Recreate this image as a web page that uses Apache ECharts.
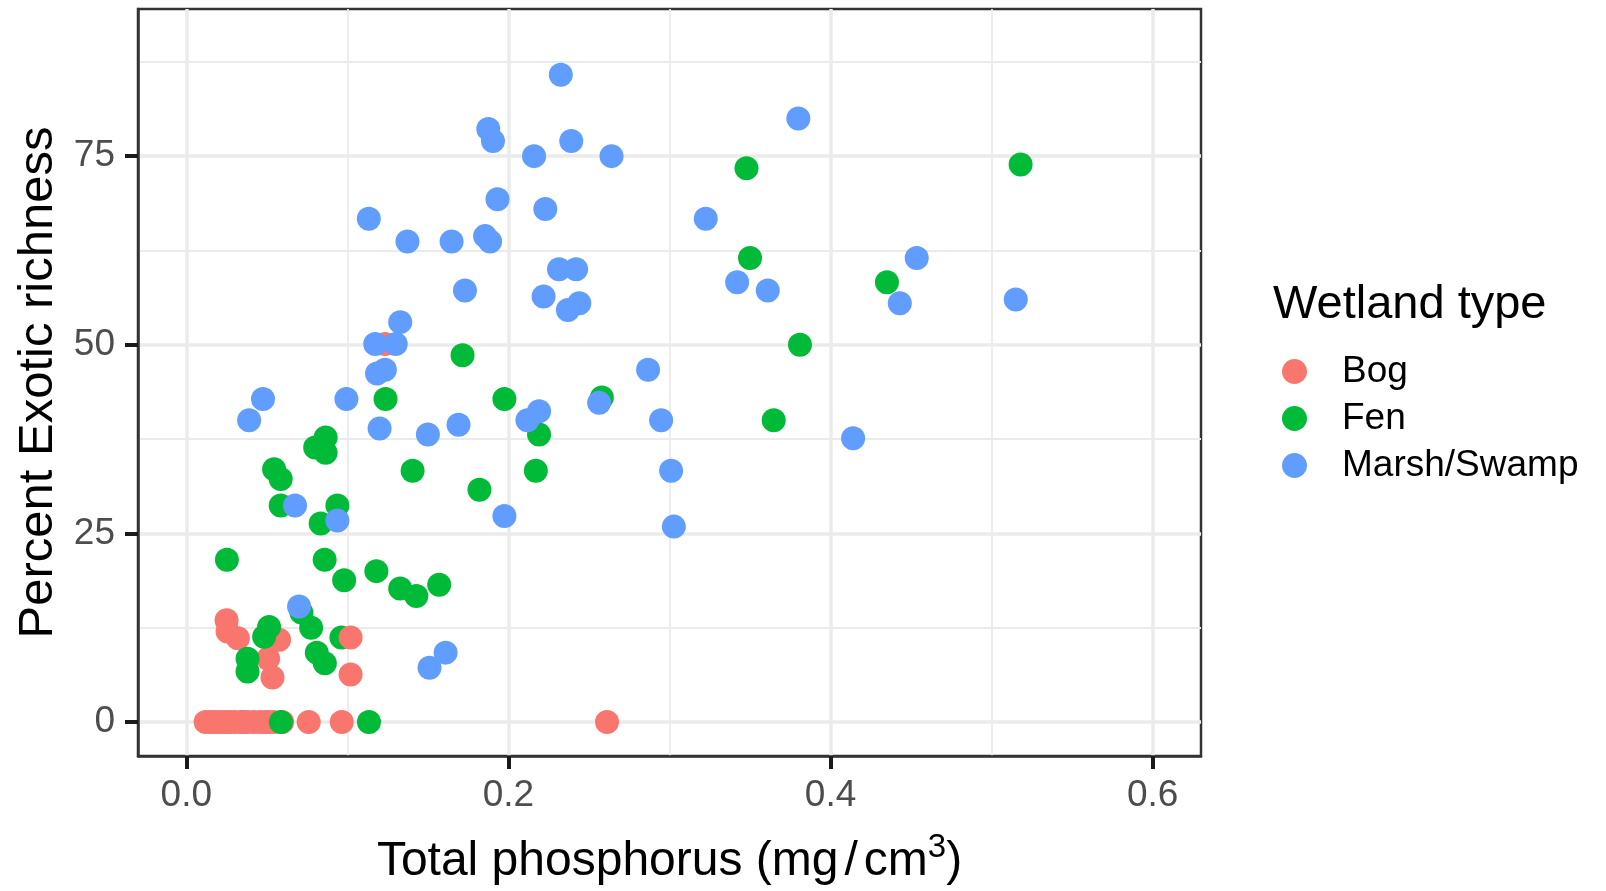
<!DOCTYPE html>
<html>
<head>
<meta charset="utf-8">
<script src="https://cdn.jsdelivr.net/npm/echarts@6/dist/echarts.min.js"></script>
<style>
html,body{margin:0;padding:0;background:#fff;}
#chart{width:1606px;height:891px;}
</style>
</head>
<body>
<div id="chart"></div>
<script>
// ---- data ----
const categories = ['Bog', 'Fen', 'Marsh/Swamp'];
const colors = ['#F8766D', '#00BA38', '#619CFF'];

const xMajor = [0, 0.2, 0.4, 0.6];
const xMinor = [0.1, 0.3, 0.5];
const yMajor = [0, 25, 50, 75];
const yMinor = [12.5, 37.5, 62.5, 87.5];

// points partly hidden beneath others (drawn first)
const marshUnder = [[0.035, 0], [0.050, 0]];
const fenUnder = [[0.0963, 11.2]];

const bogPoints = [
  [0.012, 0], [0.015, 0], [0.018, 0], [0.021, 0], [0.024, 0], [0.027, 0],
  [0.030, 0], [0.034, 0], [0.038, 0], [0.042, 0], [0.046, 0], [0.050, 0],
  [0.054, 0], [0.0595, 0], [0.076, 0], [0.0965, 0], [0.2612, 0],
  [0.025, 13.5], [0.0256, 12.0], [0.032, 11.1], [0.0576, 10.9],
  [0.0508, 8.4], [0.0535, 5.9], [0.102, 11.2], [0.102, 6.3], [0.1233, 50.1]
];

const fenPoints = [
  [0.3478, 73.4], [0.518, 73.9], [0.350, 61.5], [0.435, 58.3], [0.381, 50.0],
  [0.1715, 48.6], [0.1237, 42.8], [0.1975, 42.8], [0.258, 43.0], [0.3647, 40.0],
  [0.219, 38.1], [0.0865, 37.7], [0.080, 36.4], [0.0865, 35.7], [0.1405, 33.3],
  [0.217, 33.3], [0.0545, 33.5], [0.0586, 32.2], [0.182, 30.8], [0.0586, 28.7],
  [0.0938, 28.7], [0.0834, 26.3], [0.0252, 21.5], [0.0859, 21.5], [0.118, 20.0],
  [0.098, 18.8], [0.157, 18.2], [0.1328, 17.7], [0.1428, 16.7], [0.0715, 14.5],
  [0.0775, 12.5], [0.0514, 12.6], [0.0483, 11.3], [0.081, 9.2], [0.0860, 7.8],
  [0.038, 8.4], [0.038, 6.7], [0.0587, 0], [0.1134, 0]
];

const marshPoints = [
  [0.2325, 85.8], [0.380, 80.0], [0.1875, 78.6], [0.1904, 77.0], [0.239, 77.0],
  [0.2159, 75.0], [0.264, 75.0], [0.1932, 69.3], [0.2229, 68.0], [0.1133, 66.7],
  [0.3225, 66.7], [0.1373, 63.7], [0.1647, 63.7], [0.1855, 64.4], [0.1886, 63.7],
  [0.2314, 60.0], [0.242, 60.0], [0.4535, 61.5], [0.342, 58.3], [0.361, 57.2],
  [0.173, 57.2], [0.2218, 56.4], [0.244, 55.5], [0.2369, 54.6], [0.443, 55.5],
  [0.515, 56.0], [0.1328, 53.0], [0.1173, 50.1], [0.130, 50.1], [0.1233, 46.7],
  [0.1184, 46.2], [0.2867, 46.7], [0.0476, 42.8], [0.0994, 42.8], [0.039, 40.0],
  [0.120, 38.9], [0.150, 38.1], [0.169, 39.4], [0.2118, 40.0], [0.219, 41.2],
  [0.2563, 42.3], [0.2948, 40.0], [0.414, 37.6], [0.301, 33.3], [0.0675, 28.7],
  [0.0938, 26.7], [0.1975, 27.3], [0.3027, 25.9], [0.070, 15.3], [0.161, 9.2],
  [0.151, 7.2]
];

// ---- chart ----
const FONT = 'Liberation Sans, Arial, sans-serif';
const chart = echarts.init(document.getElementById('chart'), null, {renderer: 'canvas'});

const gridColor = '#EBEBEB';
const gridLines = []
  .concat(xMinor.map(v => ({xAxis: v, lineStyle: {color: gridColor, width: 1.8, type: 'solid'}})))
  .concat(yMinor.map(v => ({yAxis: v, lineStyle: {color: gridColor, width: 1.8, type: 'solid'}})))
  .concat(xMajor.map(v => ({xAxis: v, lineStyle: {color: gridColor, width: 3.5, type: 'solid'}})))
  .concat(yMajor.map(v => ({yAxis: v, lineStyle: {color: gridColor, width: 3.5, type: 'solid'}})));

function pts(name, data, color) {
  return {
    type: 'scatter', name: name, data: data, symbol: 'circle', symbolSize: 24,
    itemStyle: {color: color, opacity: 1}, emphasis: {disabled: true}, silent: true
  };
}

chart.setOption({
  animation: false,
  backgroundColor: '#fff',
  textStyle: {fontFamily: FONT},
  grid: {
    left: 138, top: 9, right: 405, bottom: 134,
    show: true, borderColor: '#333333', borderWidth: 2.5, backgroundColor: '#fff',
    containLabel: false
  },
  xAxis: {
    type: 'value', min: -0.03, max: 0.63, z: 10,
    name: '{a|Total phosphorus (mg}{s|/}{a|cm}{sup|3}{a|)}',
    nameLocation: 'middle', nameGap: 75,
    nameTextStyle: {
      rich: {
        a: {fontSize: 48, fontFamily: FONT, color: '#000', lineHeight: 62},
        s: {fontSize: 48, fontFamily: FONT, color: '#000', lineHeight: 62, padding: [0, 6, 0, 6]},
        sup: {fontSize: 33, fontFamily: FONT, color: '#000', lineHeight: 33, verticalAlign: 'top'}
      }
    },
    axisLine: {show: true, onZero: false, lineStyle: {color: '#333333', width: 2.5}},
    axisTick: {show: true, customValues: xMajor, length: 13, lineStyle: {color: '#1a1a1a', width: 4}},
    axisLabel: {
      customValues: xMajor, formatter: v => v.toFixed(1),
      fontSize: 37, color: '#4D4D4D', margin: 21, fontFamily: FONT
    },
    splitLine: {show: false}
  },
  yAxis: {
    type: 'value', min: -4.5, max: 94.5, z: 10,
    name: 'Percent Exotic richness',
    nameLocation: 'middle', nameGap: 69, nameRotate: 90,
    nameTextStyle: {fontSize: 49, color: '#000', lineHeight: 49, fontFamily: FONT},
    axisLine: {show: true, onZero: false, lineStyle: {color: '#333333', width: 2.5}},
    axisTick: {show: true, customValues: yMajor, length: 13, lineStyle: {color: '#1a1a1a', width: 4}},
    axisLabel: {
      customValues: yMajor, formatter: v => String(v),
      fontSize: 37, color: '#4D4D4D', margin: 23, fontFamily: FONT
    },
    splitLine: {show: false}
  },
  legend: {
    data: categories,
    orient: 'vertical',
    left: 1282, top: 353,
    icon: 'circle',
    itemWidth: 85, itemHeight: 25, itemGap: 10,
    padding: 0,
    selectedMode: false,
    textStyle: {fontSize: 37, color: '#000', lineHeight: 37, fontFamily: FONT}
  },
  graphic: [{
    type: 'text', left: 1273, top: 302 - 23.5 + 3,
    style: {text: 'Wetland type', fontSize: 47, fontFamily: FONT, fill: '#000', lineHeight: 47}
  }],
  series: [
    {
      type: 'scatter', name: '_grid', data: [], silent: true,
      markLine: {
        silent: true, symbol: ['none', 'none'], label: {show: false}, z: 1,
        animation: false, emphasis: {disabled: true}, data: gridLines
      }
    },
    pts('Marsh/Swamp', marshUnder, colors[2]),
    pts('Fen', fenUnder, colors[1]),
    pts('Bog', bogPoints, colors[0]),
    pts('Fen', fenPoints, colors[1]),
    pts('Marsh/Swamp', marshPoints, colors[2])
  ]
});
</script>
</body>
</html>
